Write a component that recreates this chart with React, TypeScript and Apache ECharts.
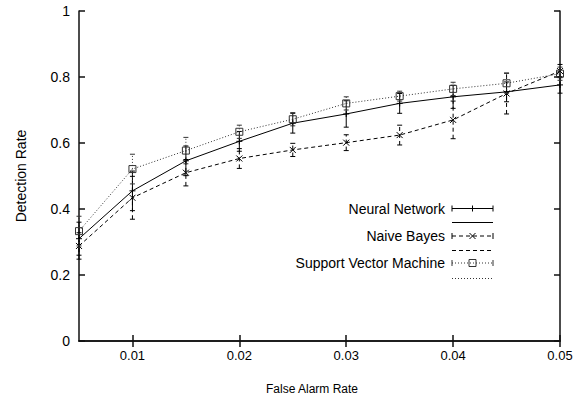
import React, { useEffect, useRef } from "react";
import * as echarts from "echarts";

// ---- data ----
const falseAlarmRates = [0.005, 0.01, 0.015, 0.02, 0.025, 0.03, 0.035, 0.04, 0.045, 0.05];
const xTickValues = [0.01, 0.02, 0.03, 0.04, 0.05];
const yTickValues = [0, 0.2, 0.4, 0.6, 0.8, 1];

const neuralNetworkRate = [0.31, 0.455, 0.546, 0.605, 0.66, 0.688, 0.72, 0.74, 0.755, 0.776];
const neuralNetworkErr = [0.05, 0.06, 0.045, 0.03, 0.03, 0.04, 0.03, 0.035, 0.03, 0.025];

const naiveBayesRate = [0.288, 0.434, 0.51, 0.553, 0.579, 0.601, 0.624, 0.67, 0.75, 0.818];
const naiveBayesErr = [0.04, 0.065, 0.04, 0.03, 0.02, 0.024, 0.03, 0.057, 0.062, 0.02];

const svmRate = [0.333, 0.521, 0.577, 0.634, 0.672, 0.72, 0.742, 0.764, 0.781, 0.81];
const svmErr = [0.045, 0.045, 0.04, 0.02, 0.02, 0.02, 0.015, 0.02, 0.03, 0.02];

const seriesNames = ["Neural Network", "Naive Bayes", "Support Vector Machine"];

const FONT = "'Liberation Sans', Arial, Helvetica, sans-serif";

type Marker = "plus" | "cross" | "square";

function markerShapes(cx: number, cy: number, marker: Marker, color: string) {
  const s = { stroke: color, lineWidth: 1, fill: null as any };
  const r = 3;
  if (marker === "plus") {
    return [
      { type: "line", shape: { x1: cx - r, y1: cy, x2: cx + r, y2: cy }, style: s },
      { type: "line", shape: { x1: cx, y1: cy - r, x2: cx, y2: cy + r }, style: s },
    ];
  }
  if (marker === "cross") {
    return [
      { type: "line", shape: { x1: cx - r, y1: cy - r, x2: cx + r, y2: cy + r }, style: s },
      { type: "line", shape: { x1: cx - r, y1: cy + r, x2: cx + r, y2: cy - r }, style: s },
    ];
  }
  return [
    { type: "rect", shape: { x: cx - 3.5, y: cy - 3.5, width: 7, height: 7 }, style: { ...s, fill: "rgba(255,255,255,0)" } },
  ];
}

function errorBarSeries(
  name: string,
  rates: number[],
  errs: number[],
  dash: number[] | null,
  color: string,
  marker: Marker
) {
  return {
    type: "custom",
    name,
    clip: false,
    z: 3,
    data: falseAlarmRates.map((x, i) => [x, rates[i], rates[i] - errs[i], rates[i] + errs[i]]),
    encode: { x: 0, y: [1, 2, 3] },
    renderItem: (params: any, api: any) => {
      const x = api.value(0);
      const c = api.coord([x, api.value(1)]);
      const lo = api.coord([x, api.value(2)]);
      const hi = api.coord([x, api.value(3)]);
      const style: any = { stroke: color, lineWidth: 1, fill: null };
      if (dash) style.lineDash = dash;
      const cw = 2.5;
      const children: any[] = [
        { type: "line", shape: { x1: c[0], y1: lo[1], x2: c[0], y2: hi[1] }, style },
        { type: "line", shape: { x1: c[0] - cw, y1: lo[1], x2: c[0] + cw, y2: lo[1] }, style: { stroke: color, lineWidth: 1 } },
        { type: "line", shape: { x1: c[0] - cw, y1: hi[1], x2: c[0] + cw, y2: hi[1] }, style: { stroke: color, lineWidth: 1 } },
        ...markerShapes(c[0], c[1], marker, color),
      ];
      return { type: "group", children };
    },
  };
}

function lineSeries(name: string, rates: number[], dash: number[] | null, color: string) {
  return {
    type: "line",
    name,
    data: falseAlarmRates.map((x, i) => [x, rates[i]]),
    symbol: "none",
    z: 2,
    lineStyle: { color, width: 1, type: dash ? dash : "solid" },
  };
}

function legendGraphics() {
  const textRight = 445;
  const x1 = 452;
  const x2 = 493;
  const mx = 472.5;
  const rows = [
    { name: seriesNames[0], y: 208.5, y2: 222.5, dash: null as number[] | null, color: "#000", marker: "plus" as Marker },
    { name: seriesNames[1], y: 236, y2: 250.5, dash: [4, 3], color: "#000", marker: "cross" as Marker },
    { name: seriesNames[2], y: 263, y2: 278.5, dash: [1, 2], color: "#333", marker: "square" as Marker },
  ];
  const els: any[] = [];
  rows.forEach((r) => {
    const st: any = { stroke: r.color, lineWidth: 1, fill: null };
    if (r.dash) st.lineDash = r.dash;
    els.push({
      type: "text",
      x: textRight,
      y: r.y,
      style: { text: r.name, font: `14px ${FONT}`, fill: "#000", align: "right", verticalAlign: "middle" },
    });
    els.push({ type: "line", shape: { x1, y1: r.y, x2, y2: r.y }, style: st });
    els.push({ type: "line", shape: { x1, y1: r.y - 3, x2: x1, y2: r.y + 3 }, style: { stroke: r.color, lineWidth: 1 } });
    els.push({ type: "line", shape: { x1: x2, y1: r.y - 3, x2, y2: r.y + 3 }, style: { stroke: r.color, lineWidth: 1 } });
    markerShapes(mx, r.y, r.marker, r.color).forEach((m) => els.push(m));
    els.push({ type: "line", shape: { x1, y1: r.y2, x2, y2: r.y2 }, style: st });
  });
  return els;
}

export default function App() {
  const ref = useRef<HTMLDivElement>(null);

  useEffect(() => {
    document.body.style.margin = "0";
    if (!ref.current) return;
    const chart = echarts.init(ref.current, null, { renderer: "svg" });

    const frame = { show: true, lineStyle: { color: "#111", width: 1.5 } };
    const tickX = { show: true, inside: true, length: 6, customValues: xTickValues, lineStyle: { color: "#111", width: 1.5 } };
    const tickY = { show: true, inside: true, length: 6, lineStyle: { color: "#111", width: 1.5 } };

    chart.setOption({
      animation: false,
      backgroundColor: "#fff",
      textStyle: { fontFamily: FONT },
      grid: { left: 79, right: 25, top: 11, bottom: 60, containLabel: false },
      xAxis: [
        {
          type: "value",
          min: 0.005,
          max: 0.05,
          axisLine: frame,
          axisTick: tickX,
          splitLine: { show: false },
          axisLabel: {
            customValues: xTickValues,
            formatter: (v: number) => String(+v.toFixed(3)),
            fontSize: 13,
            color: "#000",
            margin: 8,
            fontFamily: FONT,
          },
        },
        {
          type: "value",
          position: "top",
          min: 0.005,
          max: 0.05,
          axisLine: frame,
          axisTick: tickX,
          splitLine: { show: false },
          axisLabel: { show: false, customValues: xTickValues },
        },
      ],
      yAxis: [
        {
          type: "value",
          min: 0,
          max: 1,
          interval: 0.2,
          axisLine: frame,
          axisTick: tickY,
          splitLine: { show: false },
          axisLabel: {
            formatter: (v: number) => String(+v.toFixed(1)),
            fontSize: 14,
            color: "#000",
            margin: 9,
            fontFamily: FONT,
          },
        },
        {
          type: "value",
          position: "right",
          min: 0,
          max: 1,
          interval: 0.2,
          axisLine: frame,
          axisTick: tickY,
          splitLine: { show: false },
          axisLabel: { show: false },
        },
      ],
      series: [
        lineSeries(seriesNames[0], neuralNetworkRate, null, "#000"),
        lineSeries(seriesNames[1], naiveBayesRate, [4, 3], "#000"),
        lineSeries(seriesNames[2], svmRate, [1, 2], "#333"),
        errorBarSeries(seriesNames[0], neuralNetworkRate, neuralNetworkErr, null, "#000", "plus"),
        errorBarSeries(seriesNames[1], naiveBayesRate, naiveBayesErr, [4, 3], "#000", "cross"),
        errorBarSeries(seriesNames[2], svmRate, svmErr, [1, 2], "#333", "square"),
      ],
      graphic: [
        {
          type: "text",
          x: 21,
          y: 176,
          rotation: Math.PI / 2,
          style: { text: "Detection Rate", font: `14px ${FONT}`, fill: "#000", align: "center", verticalAlign: "middle" },
        },
        {
          type: "text",
          x: 312,
          y: 389,
          style: { text: "False Alarm Rate", font: `12px ${FONT}`, fill: "#000", align: "center", verticalAlign: "middle" },
        },
        ...legendGraphics(),
      ],
    });

    return () => chart.dispose();
  }, []);

  return <div ref={ref} style={{ width: 585, height: 401 }} />;
}
